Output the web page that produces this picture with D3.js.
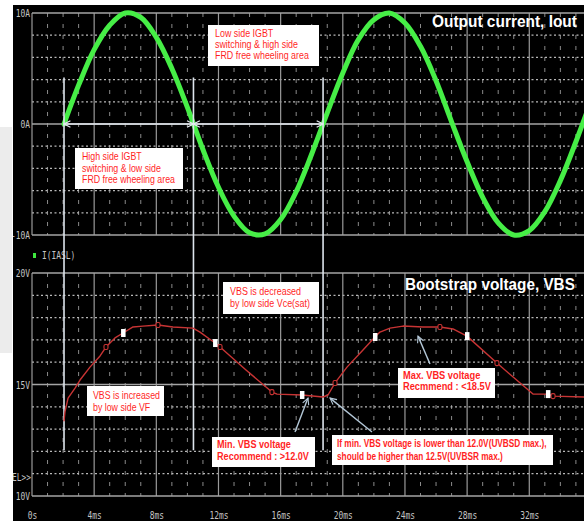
<!DOCTYPE html>
<html>
<head>
<meta charset="utf-8">
<script src="https://cdn.jsdelivr.net/npm/d3@7"></script>
<style>
  html, body { margin: 0; padding: 0; background: #fff; overflow: hidden; }
  svg { display: block; }
</style>
</head>
<body>
<svg id="chart" width="584" height="521"></svg>
<script>
// ---- Output current, Iout (time in ms, current in A) ----
const currentTime = [2.06, 3, 4, 5, 6, 7, 8, 9, 10, 11, 12, 13, 14, 15, 16, 17, 18, 19, 20,
                     21, 22, 23, 24, 25, 26, 27, 28, 29, 30, 31, 32, 33, 34, 35, 36];
const currentAmp  = [0, 3.5, 6.7, 8.9, 10.0, 9.6, 7.8, 5.0, 1.5, -2.3, -5.7, -8.3, -9.8, -9.9, -8.6, -6.1, -2.7, 1.0, 4.6,
                     7.6, 9.4, 10.0, 9.1, 7.0, 3.9, 0.2, -3.4, -6.6, -8.9, -10.0, -9.6, -7.9, -5.1, -1.6, 2.2];

// ---- Bootstrap voltage, VBS (time in ms, voltage in V) ----
const vbsTime = [2.06, 2.12, 2.32, 2.77, 3.09, 3.73, 4.38, 4.76, 5.34, 5.86, 6.50, 7.14, 8.11, 9.07,
                 10.36, 10.81, 11.78, 12.10, 13.77, 15.44, 15.77, 17.37, 18.73, 19.05, 19.50, 20.27,
                 21.30, 22.07, 22.39, 23.04, 23.87, 25.16, 26.25, 27.09, 27.99, 29.92, 32.24, 33.20,
                 33.53, 35.6];
const vbsVolt = [13.35, 13.77, 14.39, 14.84, 15.20, 15.78, 16.28, 16.68, 17.09, 17.31, 17.58, 17.62, 17.67, 17.58,
                 17.53, 17.35, 16.86, 16.68, 15.65, 14.66, 14.57, 14.53, 14.44, 14.53, 15.07, 15.78,
                 16.55, 17.13, 17.35, 17.53, 17.62, 17.58, 17.58, 17.49, 17.17, 15.96, 14.57, 14.57,
                 14.48, 14.44];

// trace cursor marks placed on the VBS trace
const whiteMarkTime = [5.86, 11.78, 17.37, 22.07, 27.99, 33.20];
const ringMarkTime  = [4.76, 8.11, 12.10, 15.44, 19.50, 26.25, 29.92, 33.53];

// current zero crossings (switching-area borders)
const zeroCrossTime = [2.06, 10.39, 18.73];

// axis ticks
const timeTicks   = [0, 4, 8, 12, 16, 20, 24, 28, 32];
const timeLabels  = ["0s", "4ms", "8ms", "12ms", "16ms", "20ms", "24ms", "28ms", "32ms"];
const ampTicks    = [10, 0, -10];
const ampLabels   = ["10A", "0A", "-10A"];
const voltTicks   = [20, 15, 10];
const voltLabels  = ["20V", "15V", "10V"];

// ---------------------------------------------------------------
const W = 584, H = 521;
const svg = d3.select("#chart");

const x  = d3.scaleLinear().domain([0, 36]).range([32, 32 + 36 * 15.54]);
const yI = d3.scaleLinear().domain([-10, 10]).range([235, 13]);
const yV = d3.scaleLinear().domain([10, 20]).range([496, 273]);

const monoFont = "'DejaVu Sans Mono', 'Liberation Mono', monospace";
const sansFont = "'Liberation Sans', Arial, 'Helvetica', sans-serif";

// squeeze glyphs horizontally around each text's anchor point
function condense(sel, factor) {
  sel.each(function () {
    const t = d3.select(this);
    const x0 = +t.attr("x") || 0;
    t.attr("x", 0).attr("transform", `translate(${x0},0) scale(${factor},1)`);
  });
}

// scope background
svg.append("rect").attr("width", W).attr("height", H).attr("fill", "#000");

const defs = svg.append("defs");
defs.append("marker")
  .attr("id", "arrWhite")
  .attr("viewBox", "0 0 10 10").attr("refX", 9).attr("refY", 5)
  .attr("markerWidth", 8).attr("markerHeight", 8)
  .attr("markerUnits", "userSpaceOnUse")
  .attr("orient", "auto-start-reverse")
  .append("path").attr("d", "M1,1 L9,5 L1,9")
  .attr("fill", "none").attr("stroke", "#e4eaf0").attr("stroke-width", 1.6);
defs.append("marker")
  .attr("id", "arrBlue")
  .attr("viewBox", "0 0 10 10").attr("refX", 9).attr("refY", 5)
  .attr("markerWidth", 8).attr("markerHeight", 8)
  .attr("markerUnits", "userSpaceOnUse")
  .attr("orient", "auto")
  .append("path").attr("d", "M1,1 L9,5 L1,9")
  .attr("fill", "none").attr("stroke", "#b4c8d8").attr("stroke-width", 1.4);

// ---- grids ----
function drawGrid(y, lo, hi, step, majors) {
  const g = svg.append("g");
  const [yTop, yBot] = [y(hi), y(lo)];
  // 1 ms dashed verticals
  g.selectAll("line.vmin").data(d3.range(1, 37).filter(t => t % 4 !== 0))
    .join("line")
    .attr("x1", d => x(d)).attr("x2", d => x(d))
    .attr("y1", yTop).attr("y2", yBot)
    .attr("stroke", "#8a8a8a").attr("stroke-width", 1)
    .attr("stroke-dasharray", "4,7");
  // dotted horizontals
  g.selectAll("line.hmin").data(d3.range(lo, hi + 1e-9, step).filter(v => !majors.includes(v)))
    .join("line")
    .attr("x1", x(0)).attr("x2", W)
    .attr("y1", d => y(d)).attr("y2", d => y(d))
    .attr("stroke", "#b8b8b8").attr("stroke-width", 1.2)
    .attr("stroke-dasharray", "2,2.5");
  // 4 ms solid verticals
  g.selectAll("line.vmaj").data(d3.range(0, 37, 4))
    .join("line")
    .attr("x1", d => x(d)).attr("x2", d => x(d))
    .attr("y1", yTop).attr("y2", yBot)
    .attr("stroke", "#9a9a9a").attr("stroke-width", 1.2);
  // solid horizontals
  g.selectAll("line.hmaj").data(majors)
    .join("line")
    .attr("x1", x(0)).attr("x2", W)
    .attr("y1", d => y(d)).attr("y2", d => y(d))
    .attr("stroke", "#a4a4a4").attr("stroke-width", 1.6);
}
drawGrid(yI, -10, 10, 2, [10, 0, -10]);
drawGrid(yV, 10, 20, 1, [20, 15, 10]);

// ---- axes labels ----
const axColor = "#c4c4c4";
const ampAxis = svg.append("g").attr("transform", `translate(${x(0)},0)`)
  .call(d3.axisLeft(yI).tickValues(ampTicks).tickFormat((d, i) => ampLabels[i]).tickSize(0).tickPadding(2));
const voltAxis = svg.append("g").attr("transform", `translate(${x(0)},0)`)
  .call(d3.axisLeft(yV).tickValues(voltTicks).tickFormat((d, i) => voltLabels[i]).tickSize(0).tickPadding(2));
const timeAxis = svg.append("g").attr("transform", `translate(0,${yV(10)})`)
  .call(d3.axisBottom(x).tickValues(timeTicks).tickFormat((d, i) => timeLabels[i]).tickSize(0).tickPadding(15));
[ampAxis, voltAxis, timeAxis].forEach(a => {
  a.select(".domain").remove();
  a.selectAll("text").attr("fill", axColor).attr("font-family", monoFont).attr("font-size", 11);
  condense(a.selectAll("text"), 0.72);
});

// selection marker text on left edge
const selText = svg.append("text").attr("x", 31).attr("y", 481)
  .attr("text-anchor", "end").attr("fill", axColor)
  .attr("font-family", monoFont).attr("font-size", 11).text("SEL>>");
condense(selText, 0.72);

// trace name label
svg.append("rect").attr("x", 33).attr("y", 253).attr("width", 3).attr("height", 5).attr("fill", "#3ee83e");
const traceName = svg.append("text").attr("x", 42).attr("y", 259)
  .attr("fill", axColor).attr("font-family", monoFont).attr("font-size", 11).text("I(IASL)");
condense(traceName, 0.72);

// ---- output current trace ----
const curLine = d3.line().x(d => x(d[0])).y(d => yI(d[1])).curve(d3.curveCatmullRom.alpha(0.5));
svg.append("path")
  .datum(d3.zip(currentTime, currentAmp))
  .attr("d", curLine)
  .attr("fill", "none").attr("stroke", "#46ee46").attr("stroke-width", 5)
  .attr("stroke-linecap", "round").attr("stroke-linejoin", "round");

// ---- switching area borders ----
const borderTop = yI(4.2), borderBot = yV(12.05);
svg.selectAll("line.border").data(zeroCrossTime).join("line")
  .attr("x1", d => x(d)).attr("x2", d => x(d))
  .attr("y1", borderTop).attr("y2", borderBot)
  .attr("stroke", "#dde4ec").attr("stroke-width", 1.6);
svg.selectAll("line.span").data(d3.pairs(zeroCrossTime)).join("line")
  .attr("x1", d => x(d[0])).attr("x2", d => x(d[1]))
  .attr("y1", yI(0)).attr("y2", yI(0))
  .attr("stroke", "#e4eaf0").attr("stroke-width", 1.6)
  .attr("marker-start", "url(#arrWhite)").attr("marker-end", "url(#arrWhite)");

// ---- VBS trace ----
const vbsData = d3.zip(vbsTime, vbsVolt);
const vbsLine = d3.line().x(d => x(d[0])).y(d => yV(d[1]));
svg.append("path").datum(vbsData).attr("d", vbsLine)
  .attr("fill", "none").attr("stroke", "#c83434").attr("stroke-width", 1.4)
  .attr("stroke-linejoin", "round");

const voltAt = t => vbsVolt[vbsTime.indexOf(t)];
svg.selectAll("rect.ring").data(ringMarkTime).join("rect")
  .attr("x", d => x(d) - 2).attr("y", d => yV(voltAt(d)) - 2.5)
  .attr("width", 4).attr("height", 5).attr("rx", 1.5)
  .attr("fill", "#000").attr("stroke", "#c83434").attr("stroke-width", 1.1);
svg.selectAll("rect.white").data(whiteMarkTime).join("rect")
  .attr("x", d => x(d) - 2).attr("y", d => yV(voltAt(d)) - 4)
  .attr("width", 4.5).attr("height", 8)
  .attr("fill", "#ffffff");

// ---- panel titles ----
function title(text, xEnd, yBase, width) {
  const t = svg.append("text").attr("x", 0).attr("y", yBase)
    .attr("fill", "#ffffff")
    .attr("font-family", sansFont).attr("font-weight", "bold").attr("font-size", 17)
    .text(text);
  const f = width / t.node().getComputedTextLength();
  t.attr("transform", `translate(${xEnd - width},0) scale(${f},1)`);
}
title("Output current, Iout", 577, 27, 145);
title("Bootstrap voltage, VBS", 575, 290, 170);

// ---- pointer arrows ----
const pointers = [
  { from: [295, 432], to: [x(17.76), yV(14.39)] },
  { from: [372, 432], to: [x(19.18), yV(14.39)] },
  { from: [430, 364], to: [x(24.84), yV(17.17)] }
];
svg.selectAll("line.ptr").data(pointers).join("line")
  .attr("x1", d => d.from[0]).attr("y1", d => d.from[1])
  .attr("x2", d => d.to[0]).attr("y2", d => d.to[1])
  .attr("stroke", "#b4c8d8").attr("stroke-width", 1.4)
  .attr("marker-end", "url(#arrBlue)");

// ---- annotation boxes ----
const notes = [
  { box: [208, 25, 111, 41], tx: 215, ty: 37, lh: 11.2, bold: false, fit: 94,
    lines: ["Low side IGBT", "switching & high side", "FRD free wheeling area"] },
  { box: [75, 148, 108, 41], tx: 82, ty: 160.5, lh: 11.2, bold: false, fit: 93,
    lines: ["High side IGBT", "switching & low side", "FRD free wheeling area"] },
  { box: [223, 282, 96, 32], tx: 230, ty: 295.5, lh: 11.2, bold: false, fit: 80,
    lines: ["VBS is decreased", "by low side Vce(sat)"] },
  { box: [87, 386, 77, 30], tx: 93, ty: 399, lh: 12, bold: false, fit: 67,
    lines: ["VBS is increased", "by low side VF"] },
  { box: [212, 437, 103, 30], tx: 217, ty: 448, lh: 12.5, bold: true, fit: 92,
    lines: ["Min. VBS voltage", "Recommend : >12.0V"] },
  { box: [332, 435, 221, 30], tx: 337, ty: 447.5, lh: 12.5, bold: true, fit: 210,
    lines: ["If min. VBS voltage is lower than 12.0V(UVBSD max.),", "should be higher than 12.5V(UVBSR max.)"] },
  { box: [398, 368, 97, 30], tx: 403, ty: 379, lh: 11.5, bold: true, fit: 88,
    lines: ["Max. VBS voltage", "Recmmend : <18.5V"] }
];
notes.forEach(n => {
  const g = svg.append("g");
  g.append("rect").attr("x", n.box[0]).attr("y", n.box[1])
    .attr("width", n.box[2]).attr("height", n.box[3]).attr("fill", "#ffffff");
  const texts = g.selectAll("text").data(n.lines).join("text")
    .attr("x", n.tx).attr("y", (d, i) => n.ty + i * n.lh)
    .attr("fill", "#ff1f1f")
    .attr("font-family", sansFont)
    .attr("font-weight", n.bold ? "bold" : "normal")
    .attr("font-size", 10.5)
    .text(d => d);
  let widest = 0;
  texts.each(function () { widest = Math.max(widest, this.getComputedTextLength()); });
  condense(texts, n.fit / widest);
});

// ---- page margin around the scope capture ----
svg.append("rect").attr("x", 0).attr("y", 0).attr("width", 13).attr("height", H).attr("fill", "#ffffff");
svg.append("rect").attr("x", 0).attr("y", 127).attr("width", 12).attr("height", 226).attr("fill", "#ececec");
svg.append("rect").attr("x", 0).attr("y", 0).attr("width", W).attr("height", 5).attr("fill", "#ffffff");
</script>
</body>
</html>
